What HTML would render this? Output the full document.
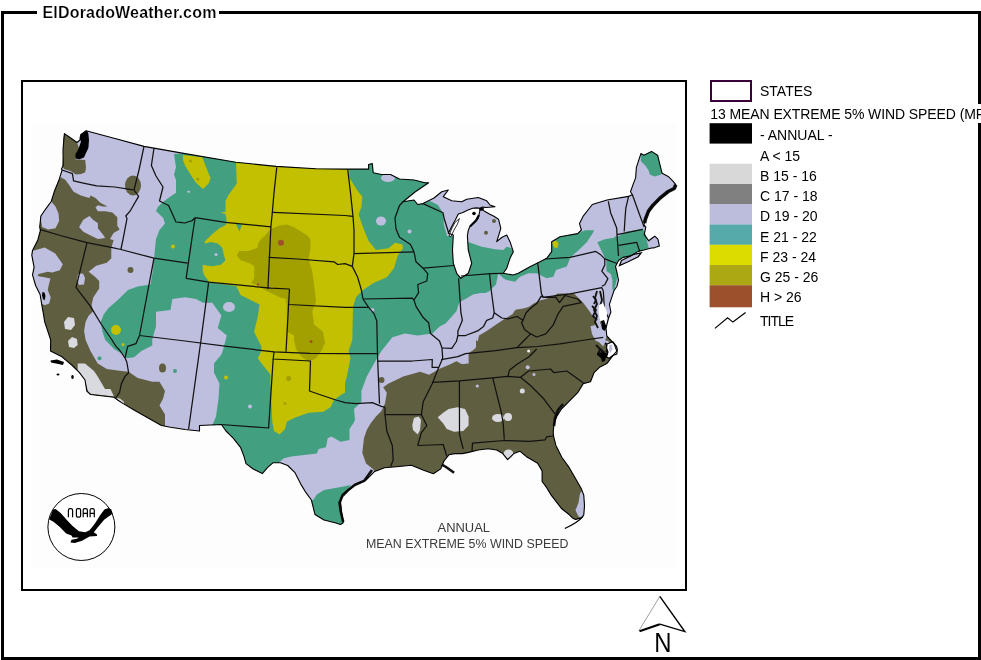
<!DOCTYPE html>
<html><head><meta charset="utf-8"><title>ElDoradoWeather.com</title>
<style>
html,body{margin:0;padding:0;background:#fff;width:981px;height:660px;overflow:hidden}
svg{position:absolute;left:0;top:0;display:block;will-change:transform}
text{font-family:"Liberation Sans",sans-serif}
</style></head><body>
<svg width="981" height="660" viewBox="0 0 981 660">
<rect x="2.5" y="12.5" width="977" height="646" fill="none" stroke="#000" stroke-width="3"/>
<rect x="37" y="4" width="182" height="18" fill="#fff"/>
<text x="42.4" y="17.8" font-size="16" font-weight="bold" fill="#000" stroke="#fff" stroke-width="0.2" letter-spacing="0.2">ElDoradoWeather.com</text>
<rect x="22" y="81" width="664" height="509" fill="#fff" stroke="#000" stroke-width="2"/>
<rect x="31" y="123" width="645" height="444.8" fill="#fdfdfd"/>
<polygon points="64.4,133.6 70,137.5 77,142.5 80,140 81.1,134.8 86,130.7 115,138.5 144,146.4 185,153.6 236,162.2 276,166.4 316,168.7 345,169.1 368.6,169.1 368.6,164.5 372.3,163.6 373.2,172.7 381.4,174.5 390.5,174.5 399.5,179 414,180 425,182.7 428.6,182.7 415,192 403,201.8 414,200 417.7,204.5 423,203.6 434,198 441.7,191.7 448.3,190 443.3,196.7 451.7,200.8 461.7,201.7 466.7,199.2 478.3,197.5 486.7,200.8 490,205 495,206.7 486,207.5 482.6,207.1 480.3,208.3 476.5,207.9 472.7,208.3 467.4,210.2 462.9,212.4 458.3,213.9 455.3,220 452,226 450,230 448.3,233.3 453.3,235 452.5,250 453.3,263.3 456.7,273.3 460.8,278.3 468.3,273.3 471.7,263.3 468.3,250 467.4,235.9 468.2,230.6 469.7,226.8 472.7,223.8 475,221.5 478,218.5 478.8,215.5 480.3,208.6 484.1,210.9 489.4,213.9 493.9,216.2 498.5,219.2 500.8,228.3 498.3,236.7 496.7,241.7 501.7,237.5 506.7,235 510,241.7 513.3,251.7 510,258.3 506.7,268.3 503.3,273.3 513.3,275 518.3,273.3 530,266.7 540,261.7 546.7,258.3 551.7,251.7 551.7,241.7 560,236.7 577.7,233.6 581.4,230 579.5,223.6 583,216.4 592.3,204.5 607,200 628.6,196.4 632.3,194.5 630.5,191.8 633.3,183.9 635.6,177.9 636.4,167.3 640.9,153.6 643.9,155.2 651.5,151.4 657.6,155.2 660.6,167.3 662.1,173.3 668.2,176.4 672.7,180.9 675.8,184.7 674.2,188.5 668.2,191.5 660.6,197.6 653,205.2 648.5,211.2 645.5,218.8 643.9,224.8 645.8,227.1 644.2,234.7 648.8,240.8 652.6,237.7 654.8,236.2 657.9,239.2 659.4,246.1 654.8,247.6 650.3,248.3 644,250 638.2,251.4 630.6,255.9 623,257.4 618.5,260.5 615.5,266.5 617,272.6 618.5,280.2 617,286.2 613.9,290.8 612.4,295.3 609.4,304.4 610.9,312 608.6,318 606,328 606.8,336 614,343.6 616.8,351 612.3,356.4 606.8,363.6 599.5,367.3 594,372.7 590.5,381.8 583.2,383.6 577.7,392.7 568.6,401.8 561.4,409 556.8,416.4 554,423.6 553.2,432 553.5,436 555.8,445.2 561.8,457.3 569.4,467.9 575.5,478.5 581.5,489.1 583.8,495.2 584.5,505.8 583.8,514.8 581.5,517.9 575.5,519.4 572.4,517.9 569.4,514.8 561.8,508.8 555.8,501.2 551.2,495.2 546.7,487.6 542.1,481.5 542.1,470.9 537.6,463.3 530,458.8 526.4,456.7 519.9,451.2 513.8,453.6 507.6,459.7 502.8,453.6 496.6,450 488,448.7 478.3,450 468.5,452.4 462.4,453.6 455,453.6 448.9,454.8 444,461 440.7,468.9 433.4,473.8 423.6,470.2 411.4,465.3 399.1,466.5 384.5,467.7 374.7,471.4 366,480 356.8,483.6 349.5,489 342.3,494.5 340.5,501.8 341.4,511 343.2,522.7 340.5,524.5 335,522.7 324,520 315,514.5 313.2,507.3 311.4,500 306,492.7 300.5,483.6 295,472.7 287.7,465.5 280.5,462.7 273.2,462.7 267.7,467.3 262.3,473.6 253.2,469 246,463.6 244,456.4 240.5,447.3 233.2,438.2 226,431 221.4,424.5 199.5,425.5 199.5,431 185,429.5 170.5,427.3 161.4,425.5 134,410 123.2,403.6 117.7,400 114,397.3 90.5,394.5 86.8,391 85,380 79.5,372.7 72.3,365.5 61.4,356.4 50.5,351 50.7,340 47.7,330.9 44.7,321.8 43.2,312.7 41.6,303.6 40.1,294.5 35.6,285.5 32.5,274.8 34.1,267.3 31.8,255.2 32.5,250.6 37.8,240 40.5,230 39.7,227 40.9,216 45.8,208.8 51.2,201.5 54.2,191.8 59.1,179.7 62.1,170 61.4,169 63.2,165.5 63,150" fill="#bebede"/>
<polygon points="174,154 185,153.6 236,162.2 276,166.4 316,168.7 345,169.1 368.6,169.1 368.6,164.5 372.3,163.6 373.2,172.7 381.4,174.5 390.5,174.5 399.5,179 414,180 425,182.7 428.6,182.7 415,192 403,201.8 414,200 417.7,204.5 423,203.6 430,201 438,205 443,213 444,225 447,236 453,236 452.5,250 453.3,263.3 456.7,273.3 460.8,278.3 468.3,273.3 471.7,263.3 468.3,250 467.5,241.7 481.7,246.7 495,249.2 503.3,250 506.7,246.7 511.7,248.3 513.3,251.7 510,258.3 506.7,268.3 503.3,273.3 513.3,275 518.3,273.3 530,266.7 540,261.7 546.7,258.3 551.7,251.7 551.7,241.7 560,236.7 577.7,233.6 581.4,231.8 585.2,230.2 594.2,230.2 592.7,233.2 586.7,242.3 579.1,249.8 570.5,257.3 566.8,266.4 556,270 553.3,276.7 546.7,278.3 540,275 536.7,273.3 528.3,273.3 520,276.7 515,281.7 506.7,280 503.3,278.3 498.3,273.3 496,284.5 488.6,291.8 485.2,293 480.6,293 473,294.5 465.5,299.1 459.4,302.1 456.4,311.2 445.8,323.3 439.7,326.4 432.3,333.6 417.7,335.5 405,333.6 392.3,337.3 387,344 381.4,351 374,363.6 366.8,376.4 361.4,391 361.4,401.8 354,409 355,420 353.2,423.6 349.5,429 349.5,440 340.5,441.8 331.4,436.4 327.7,438.2 326,447.3 318.6,449 316.8,453.6 291.4,456.4 284,458.2 278.6,462.7 273.2,462.7 267.7,467.3 262.3,473.6 253.2,469 246,463.6 244,456.4 240.5,447.3 233.2,438.2 226,431 221.4,424.5 212.3,425.5 216,416.4 218.6,398 219.5,383.6 214,372.7 214,363.6 221.4,354.5 223,350 226.8,335.5 217.7,328 221.4,315.5 212.3,302.7 203,302.7 196,299 185,297.3 172.3,299 170.5,310 156,311.8 156,326.4 152.3,339 152.3,345.5 141.4,351 134,357.3 126.8,358.2 123.2,354.5 114,349 105.3,340 102.2,330.9 100.7,321.8 103.8,314.2 108.3,308.2 118.9,299 128,290 137.7,286.4 150.5,284.5 153,270 154,259 156,239 159.5,230 165,223.6 163.2,218 156,211 157.7,207.3 163.2,201.8 170.5,196.4 176,192.7 176,180 174,174.5 176,167.3" fill="#42a080"/>
<polygon points="597.3,242.3 604.8,239.2 613.9,237.7 615.5,236.2 618.5,236.2 626,231.7 635.2,230.2 642.7,228.6 645.8,234.7 647.3,242.3 648.8,248.3 644,250 638.2,251.4 630.6,255.9 623,257.4 618.5,260.5 615.5,266.5 617,272.6 617,278.6 615.5,284.7 613.9,290.8 612.4,289.2 612.4,280.2 610.9,274.1 606.4,271.1 606.4,260.5 604.8,257.4 601.8,251.4 598.8,245.3" fill="#42a080"/>
<polygon points="640.9,153.6 643.9,155.2 651.5,151.4 657.6,155.2 660.6,167.3 662.1,173.3 660.6,174.8 654.5,176.4 650,174.8 648.5,170.3 645.5,165.8 640.9,161.2" fill="#42a080"/>
<polygon points="311.4,500 313.2,500 316.8,494.5 324,490 330,489 343.6,486.4 350.5,485 347.7,490.5 342.3,496 339.5,502.8 340.9,512.3 343.2,522.7 340.5,524.5 335,522.7 324,520 315,514.5 313.2,507.3" fill="#42a080"/>
<polygon points="236,162.5 276,166.4 316,168.7 345,169.1 349,169.5 349.5,178 357.7,191 362.3,196.4 361.4,207.3 358.6,214.5 363,227.3 368.6,241 376,250 388.6,248.2 395,242.7 402.3,244.5 403,248.2 397.7,255.5 394,268.2 386.8,277.3 374,282.7 363,290 356,297.3 353,306.4 352.3,340 348.6,351 350.5,358.2 346.8,376.4 345,383.6 345,392.7 341.4,394.5 334,400 330.5,407.3 323.2,411.8 308.6,412.7 294,418 286.8,421.8 285,429 279.5,434.5 274,431 272.3,421.8 270.5,385.5 270.5,374.5 263.2,365.5 257.7,358.2 261.4,351 261.4,346.4 254,331.8 257.7,317.3 259.5,304.5 248.6,299 240.6,295 239.1,292 236.1,285.9 225.5,284.4 214.8,282.9 208.8,281.4 204.2,275.3 202.7,270.8 202.7,264.7 211.8,266.2 220.9,264.7 225.5,260.2 223.9,255.6 222.4,248 217.9,243.5 210.3,242 205.8,243.5 204.2,242 211.8,234.4 219.4,228.3 225.5,225.3 227,222.3 225.5,213.9 220.9,212.4 225.5,211.7 225.5,201.1 228.5,195 236.8,183.6" fill="#c2c000"/>
<polygon points="183,155 202.3,157.3 206.8,169 210.5,178 208.6,183.6 203,189 196,182.7 190.5,174.5 185,165.5 183,160" fill="#c2c000"/>
<polygon points="261.4,240 270.5,229 279.5,225.5 286.8,224.5 294,227.3 303,232.7 308.6,236.4 310.5,240 310.5,248 308.6,259 312.3,271.8 314,284.5 316,301 312.3,311.8 314,324.5 323,331.8 325,342.7 321.4,351 316,358.2 308.6,361.8 301.4,356.4 296,349 294,340 294,335.5 286.8,331.8 286.8,310 286,299 279.5,297.3 265,290 258.8,285.9 251.2,282.9 254.2,278.3 254.2,266.2 249.7,263.2 240.6,260.2 236.8,255.6 239.1,251.1 248.2,251.1 257.3,248 258.8,242 264.8,234.4" fill="#a2a000"/>
<circle cx="281" cy="242.7" r="3" fill="#a0502c"/>
<circle cx="311" cy="341.5" r="1.5" fill="#a0502c"/>
<circle cx="258" cy="284.5" r="1.2" fill="#a0502c"/>
<circle cx="116" cy="330" r="5" fill="#c2c000"/>
<circle cx="288.6" cy="378.5" r="2.5" fill="#a2a000"/>
<circle cx="285" cy="403.6" r="1.5" fill="#a2a000"/>
<circle cx="123" cy="344.5" r="1.5" fill="#c2c000"/>
<circle cx="173" cy="246.4" r="2" fill="#c2c000"/>
<circle cx="226" cy="377.5" r="2" fill="#c2c000"/>
<polygon points="551.4,241.5 556,240.8 558.6,243 557.5,248 554,247.5" fill="#c2c000"/>
<polygon points="236,224 242,224.5 239.5,231.4" fill="#42a080"/>
<polygon points="64.4,133.6 70,137.5 77,142.5 79.5,149.5 76.2,154.4 75.4,159.3 85.2,160.1 86,167.4 85.2,172.3 81.1,174 76,174.5 70.5,171 64,169 62.3,165.8 63.2,156 63.2,138.9" fill="#605e40"/>
<polygon points="86,130.7 80.5,134 79.5,138 81,141.5 79.5,146 78,150 75.5,154 75.4,158.6 79.5,159.3 84,157.5 86,153 88.4,148 89,140 88.4,134 87.6,131.5" fill="#000"/>
<polygon points="60.9,177.3 65.2,179.7 68.8,184.5 73.6,191.8 80.9,195.5 89.4,197.9 90.6,195.5 95.5,197.9 100.3,202.7 107.6,206.4 102.7,206.4 97.9,205.2 95.5,207.6 97.9,211.2 105.2,211.2 112.4,212.4 117.3,217.3 117.3,225.8 119.7,229.4 113.6,233 110,239.1 113.6,240.3 111.3,248 111.3,258.2 106.8,262.7 96.2,265.8 88.6,271.8 94.7,276.4 99.2,280.9 99.2,288.5 93.2,297.6 91.6,305.2 93.2,311.2 88.6,315.8 85.6,321.8 84.1,330.9 85.6,340 90.5,351 97.7,363.6 106.8,369 121.4,371 128.6,371.8 137.7,378 152.3,381.8 159.5,381.8 165,391 163.2,398.2 159.5,405.5 165,414.5 165,426 161.4,425.5 134,410 123.2,403.6 117.7,400 114,397.3 90.5,394.5 86.8,391 85,380 79.5,372.7 72.3,365.5 61.4,356.4 50.5,351 50.7,340 47.7,330.9 44.7,321.8 43.2,312.7 41.6,303.6 40.1,294.5 35.6,285.5 32.5,274.8 34.1,267.3 31.8,255.2 32.5,250.6 37.8,240 40.5,230 39.7,227 40.9,216 45.8,208.8 51.2,201.5 54.2,191.8 59.1,179.7" fill="#605e40"/>
<polygon points="476,347.3 476,340 477.6,341.5 479.1,335.5 486.7,330.9 495.8,324.8 504.8,318.8 512.4,314.2 515.5,309.7 524.5,308.2 529.1,306.7 533.6,303.6 539.7,300.6 545.8,299.1 553.3,296.1 557.7,293.6 574,293.6 579.5,299 583.2,302.7 588.6,310 596,321 592.3,331.8 596,339 603.2,346.4 606.8,336 614,343.6 616.8,351 612.3,356.4 606.8,363.6 599.5,367.3 594,372.7 590.5,381.8 583.2,383.6 577.7,392.7 568.6,401.8 561.4,409 556.8,416.4 554,423.6 553.2,432 553.5,436 555.8,445.2 561.8,457.3 569.4,467.9 575.5,478.5 581.5,489.1 583.8,495.2 584.5,505.8 583.8,514.8 581.5,517.9 575.5,519.4 572.4,517.9 569.4,514.8 561.8,508.8 555.8,501.2 551.2,495.2 546.7,487.6 542.1,481.5 542.1,470.9 537.6,463.3 530,458.8 526.4,456.7 519.9,451.2 513.8,453.6 507.6,459.7 502.8,453.6 496.6,450 488,448.7 478.3,450 468.5,452.4 462.4,453.6 455,453.6 448.9,454.8 444,461 440.7,468.9 433.4,473.8 423.6,470.2 411.4,465.3 399.1,466.5 384.5,467.7 374.7,471.4 373,469 366,463.6 362.3,452.7 364,438 366.8,430 370.5,423.6 376,416.4 381.4,411 385,403.6 386.8,392.7 383.2,387.3 388.6,383.6 396,380 403.2,376.4 414,373.6 420,371.8 429.1,374.8 439.7,368.8 450.3,364.2 456.4,361.2 463.9,364.2 468.5,361.2 465.5,356.7 468.5,353.6 474.5,349.1" fill="#605e40"/>
<ellipse cx="133" cy="185.5" rx="8" ry="10" fill="#605e40"/>
<circle cx="130.5" cy="270" r="3" fill="#605e40"/>
<ellipse cx="162.5" cy="368" rx="3.5" ry="4.5" fill="#605e40"/>
<circle cx="494" cy="221" r="2" fill="#605e40"/>
<circle cx="486" cy="232.7" r="2" fill="#605e40"/>
<circle cx="381.5" cy="380" r="3" fill="#605e40"/>
<polygon points="51.2,201.5 55.5,206.4 58.5,213.6 59.1,220.9 55.5,228.2 48.2,229.4 42.1,227 40.3,216 45.8,208.8" fill="#bebede"/>
<polygon points="79.1,227 83.3,219.7 89.4,216 93,219.7 97.9,223.3 97.9,228.2 102.7,234.2 105.2,237.9 97.9,239.1 90.6,235.5 83.3,231.8" fill="#bebede"/>
<polygon points="34,250.6 44.7,247.6 55.3,253.6 62.8,264.2 59.8,270.3 52.2,272.6 47.7,271.8 38.6,274.1 37.5,275.5 39.4,276.4 43.2,277.1 50.5,278.5 49,284 47.7,290 50.7,297.6 49.2,303.6 44.7,305.2 41.6,303.6 40.1,294.5 35.6,285.5 32.5,274.8 34.1,267.3 31.8,255.2 32.5,250.6" fill="#bebede"/>
<polygon points="40,283 41,283.5 40.5,284.5" fill="#bebede"/>
<polygon points="78,274 83,273.6 85,278 84,284.5 79,285 77,280" fill="#bebede"/>
<polygon points="603,340 608,341 611,344 607,346 604,344" fill="#bebede"/>
<polygon points="582.3,490.6 583.8,495.2 584.5,505.8 583.8,514.8 581.5,517.9 578.5,516.4 575.5,510.3 578.5,502.7 580,493.6" fill="#bebede"/>
<polygon points="590.5,326 598,325 606,328 606.8,336 603.2,342.7 596,341 592,334" fill="#bebede"/>
<polygon points="459.5,351 468.6,351 468.6,363.6 461.4,364 457.7,361.8" fill="#bebede"/>
<ellipse cx="388" cy="178" rx="7" ry="4" fill="#bebede"/>
<ellipse cx="381" cy="221" rx="5" ry="4.5" fill="#bebede"/>
<circle cx="409.5" cy="231.5" r="2" fill="#bebede"/>
<ellipse cx="229" cy="307" rx="6" ry="5" fill="#bebede"/>
<circle cx="250" cy="406.5" r="2" fill="#bebede"/>
<circle cx="216" cy="254.5" r="1.5" fill="#bebede"/>
<circle cx="527.7" cy="367.3" r="2" fill="#bebede"/>
<circle cx="477.3" cy="386" r="1.6" fill="#bebede"/>
<circle cx="534" cy="374.5" r="1.5" fill="#bebede"/>
<circle cx="372.3" cy="310" r="2" fill="#bebede"/>
<circle cx="99.5" cy="358.2" r="2" fill="#42a080"/>
<circle cx="175" cy="371" r="2" fill="#42a080"/>
<polygon points="437.7,417.3 443.2,412.7 448.6,409 457.7,407.3 465,409 468.6,416.4 468.6,425.5 463.2,431 454,431.8 446.8,429 443.2,423.6" fill="#d9d9e0"/>
<polygon points="412.3,425 414,418 418.6,416.4 421,420 420,430 417.7,434.5 413,430" fill="#d9d9e0"/>
<polygon points="77.7,363.6 85,363.6 94,371 97.7,376.4 105,389 110.5,389 114,396.4 88.6,393.6 85,380 77.7,371.8" fill="#d9d9e0"/>
<polygon points="116,398 120,398.5 124,402 123.5,404.5 118,401" fill="#d9d9e0"/>
<polygon points="64,322 68,317 74,318 75,325 71,330 65,329" fill="#d9d9e0"/>
<polygon points="68,341 72,337 77,339 77.7,345 74,348 69,347" fill="#d9d9e0"/>
<ellipse cx="498" cy="418" rx="6" ry="4" fill="#d9d9e0"/>
<ellipse cx="508" cy="417" rx="4" ry="4" fill="#d9d9e0"/>
<ellipse cx="508.5" cy="454" rx="5" ry="4.5" fill="#d9d9e0"/>
<circle cx="522.3" cy="391" r="2.5" fill="#d9d9e0"/>
<circle cx="528.6" cy="351" r="1.5" fill="#eeeeee"/>
<g fill="none" stroke="#111" stroke-width="1.25" stroke-linejoin="round">
<polyline points="62.1,170 72.4,173.6 73.6,180.9 84.5,183.3 96.7,185.8 114.8,187 130,189.4 134,190"/>
<polyline points="144,146.4 139,170 134,190"/>
<polyline points="134,190 138.6,196.4 130,211.2 125.8,216 127,218.5 123.3,237.9 120.9,249.5"/>
<polyline points="154,148 151.4,165.5 156,176 163,187 159.5,201 168.6,205.5 176,222 180,222.3 185,223 189,221.5 192,220.8 195.2,217.7"/>
<polyline points="195.2,217.7 193.2,230 186.1,278.3"/>
<polyline points="39.7,229.4 60.3,235.5 87,242.7 112.4,247.6 120.9,249.5 154,258.2 187.6,263.2"/>
<polyline points="87,242.7 76,287.3 90.5,306.4 101.4,324.5 112,340 116,346.4 119.5,350 125,358"/>
<polyline points="125,358 126.8,362 128.6,372.7 125,376.4 121.4,383.6 119.5,392.7 116,397.3"/>
<polyline points="125,358 127.7,346.4 136,343.6 139.5,335.5"/>
<polyline points="154,258.2 139.5,335.5"/>
<polyline points="139.5,335.5 185,341 226.8,346.4 274,351.8 310,353.3 345,353.6 377.7,353.6"/>
<polyline points="208.6,282.7 201,340 188.6,429"/>
<polyline points="186.1,278.3 208.8,282.1 270.9,288.2 289.5,289"/>
<polyline points="276.8,167.3 274,192.7 272.3,212.7 270.9,226.8 267.9,289"/>
<polyline points="195.2,217.7 225.5,222.3 270.9,226.8"/>
<polyline points="273,212.4 345,215.5 353,216.4"/>
<polyline points="268.6,257.3 297.7,259 334,261.8 337.7,264.5 345,263.6 352.3,266.4"/>
<polyline points="289.5,289 288.6,304.5 345,307.3 368.6,307.3"/>
<polyline points="288.6,304.5 286,351.8"/>
<polyline points="274,351.8 273.2,359 310.5,361 309.5,391 319.5,394.5 336,400 345,402.7 356,403.6 372.3,402.7 381.4,406.4 385,407.3"/>
<polyline points="273.2,359 268.6,428 221.4,424.5"/>
<polyline points="377.7,361 379.5,403.6"/>
<polyline points="368.6,307.3 374,313.6 376.8,321 377.4,350 377.7,361"/>
<polyline points="377.7,361 412.3,361 432.3,359.5 432.1,367.3 438.2,367.3"/>
<polyline points="385,407.3 385,414.5 421.4,414.5"/>
<polyline points="385,414.5 386.8,431 392.3,445.5 393.2,460 390.6,466.5"/>
<polyline points="414,251.8 416,261.8 423,268.2 427.7,273.6 426.8,281 417.7,284.5 418.6,292.7 414,300 416,306.4 423,317.3 428.6,322.7 430.5,333.6 439.5,341 442,348 442.7,358.2 438.2,368.8 432.1,383.9 430.5,387.3 423.2,401.8 421.4,414.5 426.8,425.5 421.4,432.7 417.7,445.5"/>
<polyline points="417.7,445.5 443.2,444.5 446.8,456.4"/>
<polyline points="459.4,380.9 459.5,434.5 463.2,449"/>
<polyline points="432.1,382.4 459.4,380.9 492.7,377.9 507.9,376.4 520.5,377.3 528.6,371 550.5,369 554,372.7 566.8,371 583.2,382.7"/>
<polyline points="536.7,349 529.1,356.7 517,364.2 509.4,370.3 507.9,376.4"/>
<polyline points="441.2,359.7 457.9,356.7 465.5,353.6 495.8,350.6 517,347.6 537.7,346.5 560,343.8 585,340 603.2,337.3"/>
<polyline points="492.7,377.9 501.4,412.7 503.2,423.6 504.3,439.6"/>
<polyline points="472,451 472.5,443.2 504.3,440.5 530,441.4 545.2,439.8 546.7,436.8 552.7,436 554,435"/>
<polyline points="520.5,377.3 530.5,385.5 543.2,398.2 554,412.7 556.8,416.4"/>
<polyline points="517,347.6 523,341.5 530.6,333.9 536.7,337 545.8,333.9 553.3,324.8 557.9,314.2 563.2,306.4 581.4,302.7"/>
<polyline points="523,320.3 521.5,322.6 524.5,329.4 530.6,333.9"/>
<polyline points="543.2,297.3 556,297.3 559.5,302.7 565,295.5 577.7,299 581.4,302.7"/>
<polyline points="442,348 451.8,348.3 456.4,341.5 457.9,335.5 465.5,335.5 477.6,330.9 483.6,326.4 486.7,320.3 492.7,318 494.2,312.7 501.8,318 507.9,318.8 517,316.5 523,320.3 526.1,312.7 530.6,308.2 536.7,303.6 541.2,296.1 543.2,297.3"/>
<polyline points="458.6,278.2 459.4,290 460.9,312.7 462.4,320.3 457.9,330.9 457.9,335.5"/>
<polyline points="489.5,273.6 491.2,290 494.2,312.7"/>
<polyline points="460.8,276 490.5,273.6 503.3,273.3"/>
<polyline points="363,299 412.3,298.2 414,300"/>
<polyline points="354,253.6 414,251.8"/>
<polyline points="347.7,169.5 350.5,192.7 353,216.4 354,230 354,253.6 352.3,266.4"/>
<polyline points="352.3,266.4 357.7,277.3 361.4,290 363,299 368.6,307.3"/>
<polyline points="403,201.8 399.5,205.5 395,218 396,229 399.5,237.3 410.5,244.5 414,251.8"/>
<polyline points="423,268.2 454,265.5"/>
<polyline points="423,203.6 443,212.7 444,218 448.6,232.7"/>
<polyline points="537.7,262.7 541.4,293.6 543.2,297.3"/>
<polyline points="545,259 570,257.4 595.8,251.4 600.3,254.4 604.8,258.9 617,263.5"/>
<polyline points="604.8,258.9 604.8,265 601.8,271.1 607.9,278.6 604.8,284.7 601.8,286.2"/>
<polyline points="543.2,297.3 570,293.8 601.8,287.7 603.3,290.8"/>
<polyline points="603.3,290.8 604.5,310 608.6,318"/>
<polyline points="608.3,201.4 610.6,212.7 616.7,227.9 617,234.7 618.5,255.9"/>
<polyline points="628.6,196.4 625.8,208.2 625,218.8 624.2,231.5"/>
<polyline points="617,234.7 642.7,229.4"/>
<polyline points="618.5,245.3 636.7,242.3 639.7,251.4"/>
<polyline points="632.3,194.5 639.7,215 644.2,227.1"/>
<polyline points="597,291 595,298 597,304 594,310 597,316 595,322 598,328" stroke-width="1.8"/>
<polyline points="600,291 602,300 600,306 603,314 601,322 604,330" stroke-width="1.8"/>
<polyline points="592,306 596,310 593,316 597,320" stroke-width="1.8"/>
<polyline points="593,296 596,300 594,304" stroke-width="1.8"/>
<polyline points="596,345 600,349 598,354 602,358" stroke-width="1.8"/>
<polyline points="605,343 609,347 606,352" stroke-width="1.8"/>
<polyline points="675.8,184.7 674.2,188.5 668.2,191.5 660.6,197.6 653,205.2 648.5,211.2 645.5,218.8 644.5,223" stroke-width="3.6"/>
<polyline points="372,470 364.1,480.9 354.6,485 347.7,490.5 342.3,496 339.5,502.8 340.9,512.3 343.2,522" stroke-width="2.6"/>
<polyline points="441.9,464.6 446,467 454.1,472.7" stroke-width="2.6"/>
<polyline points="563,404 558,410 555,418 554,426" stroke-width="2.6"/>
<polyline points="600,349 606,355 610,351" stroke-width="2.6"/>
</g>
<polygon points="599,305 603,303 607,312 606.5,326 603,329 600,320 598.5,312" fill="#fff"/>
<polygon points="621.5,260.5 633.6,254.4 641.2,252.9 638.2,256.7 627.6,262 619.5,265.5" fill="#bebede" stroke="#000" stroke-width="1.2"/>
<polygon points="607,344 612.7,341.8 616.4,346.4 617.3,349.1 616.8,354.1 612.7,355.5 609.1,358.2 606.5,357 608,352 606.5,348" fill="#fff" stroke="#000" stroke-width="1.2"/>
<polygon points="609.5,345 612,344.5 612.5,349 610.5,353 609,350" fill="#bebede"/>
<polygon points="597,353 603,352 606.5,355 605,361 602,362 601,357.5 597,355" fill="#000"/>
<polygon points="601,321 604,320 606.5,327 605,331 602,329" fill="#000"/>
<polygon points="449,236 451.5,229 455,222.5 459.5,218.5 457.5,224 454,230 451,236.5" fill="#fff" stroke="#000" stroke-width="0.8"/>
<ellipse cx="474" cy="213.5" rx="1.8" ry="1.8" fill="#000"/>
<ellipse cx="481.5" cy="209" rx="2.5" ry="1.8" fill="#000"/>
<polyline points="479,215 476,220.5 473,223.5 470,226.5" fill="none" stroke="#000" stroke-width="2.2"/>
<ellipse cx="190.5" cy="161" rx="1.5" ry="1.5" fill="#a2a000"/>
<ellipse cx="197.7" cy="179" rx="1.8" ry="1.5" fill="#a2a000"/>
<ellipse cx="188.6" cy="191.8" rx="1.5" ry="1" fill="#bebede"/>
<path d="M583,516.4 Q578,522.5 564.8,528.5" fill="none" stroke="#000" stroke-width="1.3"/>
<polygon points="50.5,360.5 57,359.5 64,362 63,365 56,363.5 51,362.5" fill="#000"/>
<ellipse cx="58" cy="374.5" rx="1.5" ry="1" fill="#000"/>
<polygon points="42.5,292 44.5,292.5 45.5,296 44.5,300.5 43,299 42,295.5" fill="#000"/>
<ellipse cx="72.5" cy="377" rx="1.3" ry="2" fill="#000"/>
<polygon points="64.4,133.6 70,137.5 77,142.5 80,140 81.1,134.8 86,130.7 115,138.5 144,146.4 185,153.6 236,162.2 276,166.4 316,168.7 345,169.1 368.6,169.1 368.6,164.5 372.3,163.6 373.2,172.7 381.4,174.5 390.5,174.5 399.5,179 414,180 425,182.7 428.6,182.7 415,192 403,201.8 414,200 417.7,204.5 423,203.6 434,198 441.7,191.7 448.3,190 443.3,196.7 451.7,200.8 461.7,201.7 466.7,199.2 478.3,197.5 486.7,200.8 490,205 495,206.7 486,207.5 482.6,207.1 480.3,208.3 476.5,207.9 472.7,208.3 467.4,210.2 462.9,212.4 458.3,213.9 455.3,220 452,226 450,230 448.3,233.3 453.3,235 452.5,250 453.3,263.3 456.7,273.3 460.8,278.3 468.3,273.3 471.7,263.3 468.3,250 467.4,235.9 468.2,230.6 469.7,226.8 472.7,223.8 475,221.5 478,218.5 478.8,215.5 480.3,208.6 484.1,210.9 489.4,213.9 493.9,216.2 498.5,219.2 500.8,228.3 498.3,236.7 496.7,241.7 501.7,237.5 506.7,235 510,241.7 513.3,251.7 510,258.3 506.7,268.3 503.3,273.3 513.3,275 518.3,273.3 530,266.7 540,261.7 546.7,258.3 551.7,251.7 551.7,241.7 560,236.7 577.7,233.6 581.4,230 579.5,223.6 583,216.4 592.3,204.5 607,200 628.6,196.4 632.3,194.5 630.5,191.8 633.3,183.9 635.6,177.9 636.4,167.3 640.9,153.6 643.9,155.2 651.5,151.4 657.6,155.2 660.6,167.3 662.1,173.3 668.2,176.4 672.7,180.9 675.8,184.7 674.2,188.5 668.2,191.5 660.6,197.6 653,205.2 648.5,211.2 645.5,218.8 643.9,224.8 645.8,227.1 644.2,234.7 648.8,240.8 652.6,237.7 654.8,236.2 657.9,239.2 659.4,246.1 654.8,247.6 650.3,248.3 644,250 638.2,251.4 630.6,255.9 623,257.4 618.5,260.5 615.5,266.5 617,272.6 618.5,280.2 617,286.2 613.9,290.8 612.4,295.3 609.4,304.4 610.9,312 608.6,318 606,328 606.8,336 614,343.6 616.8,351 612.3,356.4 606.8,363.6 599.5,367.3 594,372.7 590.5,381.8 583.2,383.6 577.7,392.7 568.6,401.8 561.4,409 556.8,416.4 554,423.6 553.2,432 553.5,436 555.8,445.2 561.8,457.3 569.4,467.9 575.5,478.5 581.5,489.1 583.8,495.2 584.5,505.8 583.8,514.8 581.5,517.9 575.5,519.4 572.4,517.9 569.4,514.8 561.8,508.8 555.8,501.2 551.2,495.2 546.7,487.6 542.1,481.5 542.1,470.9 537.6,463.3 530,458.8 526.4,456.7 519.9,451.2 513.8,453.6 507.6,459.7 502.8,453.6 496.6,450 488,448.7 478.3,450 468.5,452.4 462.4,453.6 455,453.6 448.9,454.8 444,461 440.7,468.9 433.4,473.8 423.6,470.2 411.4,465.3 399.1,466.5 384.5,467.7 374.7,471.4 366,480 356.8,483.6 349.5,489 342.3,494.5 340.5,501.8 341.4,511 343.2,522.7 340.5,524.5 335,522.7 324,520 315,514.5 313.2,507.3 311.4,500 306,492.7 300.5,483.6 295,472.7 287.7,465.5 280.5,462.7 273.2,462.7 267.7,467.3 262.3,473.6 253.2,469 246,463.6 244,456.4 240.5,447.3 233.2,438.2 226,431 221.4,424.5 199.5,425.5 199.5,431 185,429.5 170.5,427.3 161.4,425.5 134,410 123.2,403.6 117.7,400 114,397.3 90.5,394.5 86.8,391 85,380 79.5,372.7 72.3,365.5 61.4,356.4 50.5,351 50.7,340 47.7,330.9 44.7,321.8 43.2,312.7 41.6,303.6 40.1,294.5 35.6,285.5 32.5,274.8 34.1,267.3 31.8,255.2 32.5,250.6 37.8,240 40.5,230 39.7,227 40.9,216 45.8,208.8 51.2,201.5 54.2,191.8 59.1,179.7 62.1,170 61.4,169 63.2,165.5 63,150" fill="none" stroke="#000" stroke-width="1.1" stroke-linejoin="round"/>
<circle cx="81.4" cy="527" r="33.5" fill="#fff" stroke="#000" stroke-width="1"/>
<polygon points="49.2,519.6 53,509.5 55.6,509 60.9,513.2 67.3,520.6 72.6,526 78.9,531.2 85.3,532.3 89.5,530.2 94.8,523.8 100.1,515.3 104.4,509.5 108.6,507.9 111.3,509.5 112.9,514.3 111.8,514.3 104.4,519.6 98,527 93.8,532.3 97,534.4 97,536 89.5,536.5 82.1,540.8 74.7,542.9 70.5,542.4 71.5,539.7 76.8,538.7 78.9,537.6 72.6,537.6 71.5,535.5 66.2,533.4 59.8,527 53.5,521.7" fill="#000"/>
<path d="M68.4,517.2 V510.2 Q68.4,508.6 70,508.6 H71 Q72.6,508.6 72.6,510.2 V517.2 M76.4,510 Q76.4,508.6 77.8,508.6 H79.3 Q80.6,508.6 80.6,510 V515.8 Q80.6,517.2 79.3,517.2 H77.8 Q76.4,517.2 76.4,515.8 Z M83.2,517.2 V510.2 Q83.2,508.6 84.8,508.6 H85.8 Q87.4,508.6 87.4,510.2 V517.2 M83.2,513.4 H87.4 M90.1,517.2 V510.2 Q90.1,508.6 91.7,508.6 H92.7 Q94.3,508.6 94.3,510.2 V517.2 M90.1,513.4 H94.3" fill="none" stroke="#000" stroke-width="1.2"/>
<text x="437.5" y="531.5" font-size="12" fill="#3a3a3a" textLength="52.5" lengthAdjust="spacingAndGlyphs">ANNUAL</text>
<text x="365.9" y="548.4" font-size="12" fill="#3a3a3a" textLength="202.6" lengthAdjust="spacingAndGlyphs">MEAN EXTREME 5% WIND SPEED</text>
<polyline points="638.75,631 659.8,596.4" fill="none" stroke="#888" stroke-width="0.8"/>
<polyline points="659.8,596.4 684.8,631.6 659.8,624.2" fill="none" stroke="#000" stroke-width="1.4"/>
<polyline points="639.5,631.3 659.8,624.2" fill="none" stroke="#000" stroke-width="2.2"/>
<text transform="translate(654.3,651.5) scale(0.86,1)" font-size="27.8" fill="#000">N</text>
<rect x="711" y="81" width="40" height="20" fill="#fff" stroke="#3a0038" stroke-width="2"/>
<text x="760" y="95.6" font-size="14" fill="#000">STATES</text>
<rect x="960" y="104" width="21" height="19" fill="#fff"/>
<text x="710.3" y="119.4" font-size="14" fill="#000" letter-spacing="-0.09">13 MEAN EXTREME 5% WIND SPEED (MPH)</text>
<rect x="709.6" y="123.20" width="42.4" height="20.40" fill="#000000"/>
<text x="760" y="140.2" font-size="14" fill="#000">- ANNUAL -</text>
<text x="760" y="160.5" font-size="14" fill="#000">A &lt; 15</text>
<rect x="709.6" y="163.72" width="42.4" height="20.40" fill="#d8d8d8"/>
<text x="760" y="180.7" font-size="14" fill="#000">B 15 - 16</text>
<rect x="709.6" y="183.98" width="42.4" height="20.40" fill="#808080"/>
<text x="760" y="201.0" font-size="14" fill="#000">C 17 - 18</text>
<rect x="709.6" y="204.24" width="42.4" height="20.40" fill="#bcbcdc"/>
<text x="760" y="221.2" font-size="14" fill="#000">D 19 - 20</text>
<rect x="709.6" y="224.50" width="42.4" height="20.40" fill="#56aaaa"/>
<text x="760" y="241.5" font-size="14" fill="#000">E 21 - 22</text>
<rect x="709.6" y="244.76" width="42.4" height="20.40" fill="#dcdc00"/>
<text x="760" y="261.8" font-size="14" fill="#000">F 23 - 24</text>
<rect x="709.6" y="265.02" width="42.4" height="20.40" fill="#aca814"/>
<text x="760" y="282.0" font-size="14" fill="#000">G 25 - 26</text>
<rect x="709.6" y="285.28" width="42.4" height="22.00" fill="#9c502c"/>
<text x="760" y="302.3" font-size="14" fill="#000">H &gt; 26</text>
<polyline points="714.9,328.4 727.6,317.8 732.9,322.1 745.6,312.5" fill="none" stroke="#000" stroke-width="1.2"/>
<text x="760" y="326" font-size="14" fill="#000" letter-spacing="-1">TITLE</text>
</svg></body></html>
